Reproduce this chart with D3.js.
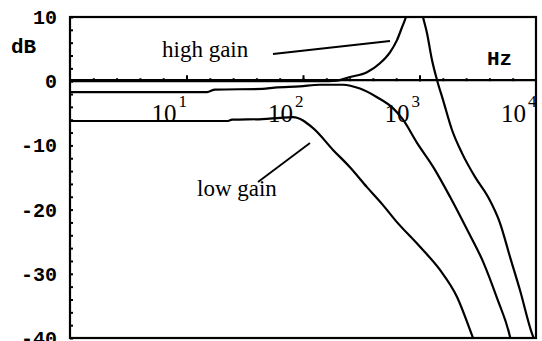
<!DOCTYPE html>
<html>
<head>
<meta charset="utf-8">
<script src="https://cdn.jsdelivr.net/npm/d3@7"></script>
<style>
  body { margin: 0; background: #fff; }
  svg { display: block; }
</style>
</head>
<body>
<script>
// response curves, [frequency in Hz, gain in dB]
var highGain = [
    [1, 0], [50, 0], [140, 0], [196, 0.1], [253, 0.65], [354, 1.4], [458, 2.8],
    [558, 4.5], [641, 6.4], [708, 8.4], [766, 10], [840, 12.5], [920, 13.5],
    [1000, 12.6], [1072, 10], [1159, 7.5], [1280, 3.3], [1413, 0.2], [1591, -2.9],
    [1902, -7.6], [2316, -11.2], [2995, -14.9], [3870, -18.0], [4910, -22.1],
    [5990, -27.4], [7300, -32.6], [9240, -39.3], [9800, -40.5]
];
var midGain = [
    [1, -1.7], [15, -1.7], [17.6, -1.3], [45, -1.2], [57, -1.0], [94, -0.8],
    [140, -0.55], [220, -0.55], [308, -1.15], [432, -2.5], [592, -4.2], [722, -6.0],
    [952, -9.6], [1306, -13.3], [1828, -18.0], [2560, -23.1], [3510, -28.1],
    [4630, -33.8], [5980, -39.8], [6100, -40.5]
];
var lowGain = [
    [1, -6.2], [22.7, -6.2], [24.6, -6.0], [45, -5.9], [63.5, -5.7], [82, -5.6],
    [122, -7.3], [181, -10.7], [253, -13.4], [354, -16.5], [486, -19.3], [616, -21.6],
    [1010, -25.8], [1500, -29.4], [2100, -33.6], [2880, -40.0], [2950, -40.5]
];

var yLabels = [10, 0, -10, -20, -30, -40];
var decades = [1, 2, 3, 4];

var width = 542, height = 341;

var svg = d3.select("body").append("svg")
    .attr("width", width)
    .attr("height", height);

var x = d3.scaleLog().domain([1, 1e4]).range([70, 536]);
var y = d3.scaleLinear().domain([-40, 10]).range([338, 17]);

svg.append("defs").append("clipPath")
    .attr("id", "plot")
  .append("rect")
    .attr("x", x(1))
    .attr("y", y(10))
    .attr("width", x(1e4) - x(1))
    .attr("height", y(-40) - y(10));

// left axis, ticks every 2 dB pointing inward
var yAxis = d3.axisLeft(y)
    .tickValues(d3.range(-40, 10.1, 2))
    .tickSize(-3)
    .tickPadding(13)
    .tickFormat(d => yLabels.indexOf(d) >= 0 ? String(d) : "");

svg.append("g")
    .attr("transform", "translate(" + x(1) + ",0)")
    .call(yAxis)
    .call(g => g.select(".domain").remove())
    .call(g => g.selectAll("line").attr("stroke", "#000").attr("stroke-width", 2))
    .call(g => g.selectAll("text")
        .attr("fill", "#000")
        .style("font-family", "'Liberation Mono', 'DejaVu Sans Mono', monospace")
        .style("font-weight", "bold")
        .style("font-size", "20px"));

// ticks along the 0 dB line, every 0.2 decade
var minor = d3.range(1, 20).map(i => Math.pow(10, i * 0.2));
svg.append("g")
    .attr("transform", "translate(0," + y(0) + ")")
    .call(d3.axisTop(x).tickValues(minor).tickSize(3).tickFormat(""))
    .call(g => g.select(".domain").remove())
    .call(g => g.selectAll("line").attr("stroke", "#000").attr("stroke-width", 2));
svg.append("g")
    .attr("transform", "translate(0," + y(0) + ")")
    .call(d3.axisTop(x).tickValues([10, 100, 1000]).tickSize(6).tickFormat(""))
    .call(g => g.select(".domain").remove())
    .call(g => g.selectAll("line").attr("stroke", "#000").attr("stroke-width", 2));

// frame and zero line
svg.append("rect")
    .attr("x", x(1))
    .attr("y", y(10))
    .attr("width", x(1e4) - x(1))
    .attr("height", y(-40) - y(10))
    .attr("fill", "none")
    .attr("stroke", "#000")
    .attr("stroke-width", 2.2);

svg.append("line")
    .attr("x1", x(1)).attr("x2", x(1e4))
    .attr("y1", y(0) - 1).attr("y2", y(0) - 1)
    .attr("stroke", "#000")
    .attr("stroke-width", 2.2);

// decade labels 10^n
var dec = svg.append("g")
    .style("font-family", "'Liberation Serif', 'Times New Roman', serif")
    .attr("fill", "#000");
dec.selectAll(".base")
    .data(decades)
    .enter().append("text")
    .attr("class", "base")
    .attr("x", d => x(Math.pow(10, d)) - 10)
    .attr("y", 122)
    .attr("text-anchor", "end")
    .style("font-size", "25px")
    .text("10");
dec.selectAll(".exp")
    .data(decades)
    .enter().append("text")
    .attr("class", "exp")
    .attr("x", d => x(Math.pow(10, d)) - 8)
    .attr("y", 107)
    .style("font-size", "17px")
    .text(d => d);

// curves
var line = d3.line()
    .x(d => x(d[0]))
    .y(d => y(d[1]))
    .curve(d3.curveMonotoneX);

svg.append("g")
    .attr("clip-path", "url(#plot)")
  .selectAll("path")
    .data([highGain, midGain, lowGain])
    .enter().append("path")
    .attr("d", line)
    .attr("fill", "none")
    .attr("stroke", "#000")
    .attr("stroke-width", 2.2);

// units
var mono = "'Liberation Mono', 'DejaVu Sans Mono', monospace";
svg.append("text")
    .attr("x", 11).attr("y", 53)
    .style("font-family", mono).style("font-weight", "bold").style("font-size", "21px")
    .text("dB");
svg.append("text")
    .attr("x", 487).attr("y", 65)
    .style("font-family", mono).style("font-weight", "bold").style("font-size", "21px")
    .text("Hz");

// annotations
var serif = "'Liberation Serif', 'Times New Roman', serif";
svg.append("text")
    .attr("x", 162).attr("y", 57)
    .style("font-family", serif).style("font-size", "23px")
    .text("high gain");
svg.append("line")
    .attr("x1", 273).attr("y1", 54).attr("x2", 390).attr("y2", 41)
    .attr("stroke", "#000").attr("stroke-width", 1.8);

svg.append("text")
    .attr("x", 197).attr("y", 196)
    .style("font-family", serif).style("font-size", "23px")
    .text("low gain");
svg.append("line")
    .attr("x1", 258).attr("y1", 182).attr("x2", 310).attr("y2", 143)
    .attr("stroke", "#000").attr("stroke-width", 1.8);
</script>
</body>
</html>
